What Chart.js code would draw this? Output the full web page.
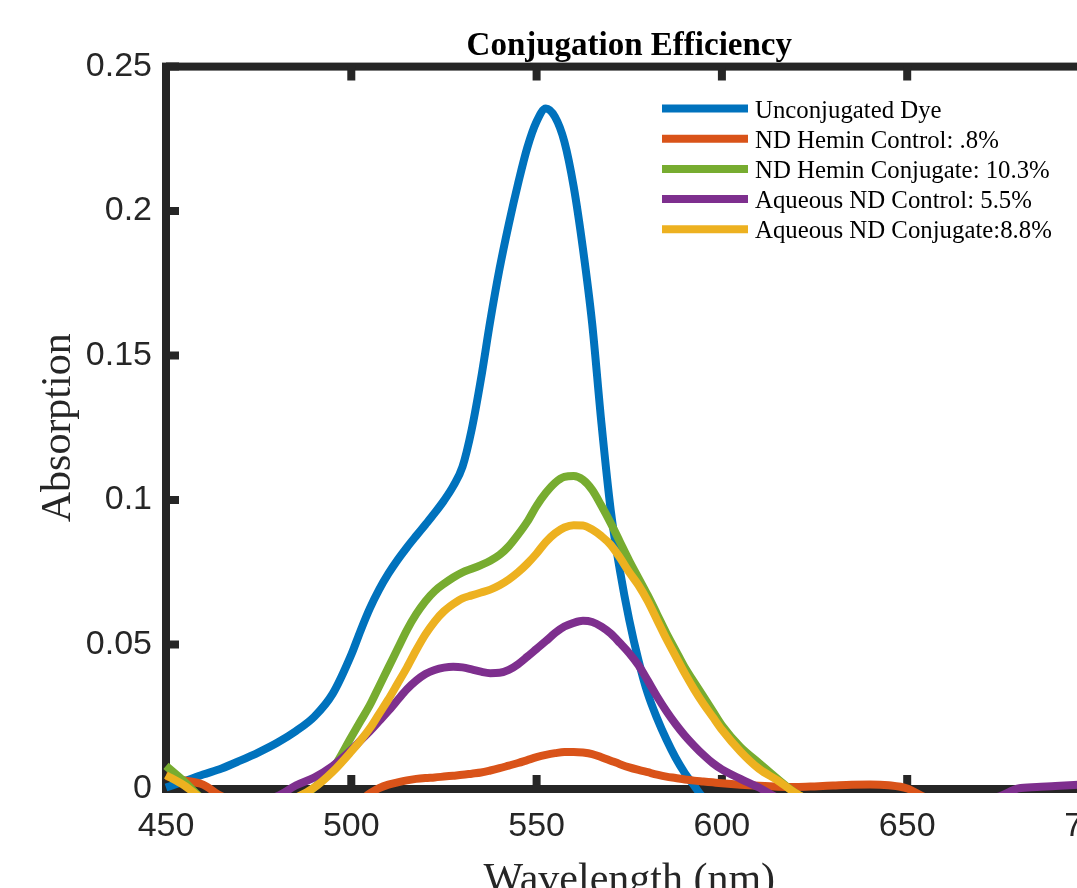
<!DOCTYPE html>
<html>
<head>
<meta charset="utf-8">
<title>Conjugation Efficiency</title>
<script src="https://cdn.jsdelivr.net/npm/chart.js"></script>
<style>
  html, body { margin: 0; padding: 0; background: #fff; overflow: hidden; }
  #wrap { width: 1140px; height: 888px; }
</style>
</head>
<body>
<div id="wrap"><canvas id="chart" width="1140" height="888"></canvas></div>
<script>
// wavelength (nm): 5 nm steps, 2.5 nm around the peaks
const wavelength = [450, 455, 460, 465, 470, 475, 480, 485, 490, 495,
  500, 502.5, 505, 507.5, 510, 512.5, 515, 517.5, 520, 522.5,
  525, 527.5, 530, 532.5, 535, 537.5, 540, 542.5, 545, 547.5,
  550, 552.5, 555, 557.5, 560, 562.5, 565, 567.5, 570, 572.5,
  575, 577.5, 580, 582.5, 585, 587.5, 590, 592.5, 595, 597.5,
  600, 605, 610, 615, 620, 625, 630, 635, 640, 645,
  650, 655, 660, 665, 670, 675, 680, 685, 690, 695, 700];

// absorption (values below 0 are hidden by the axes)
const unconjugatedDye = [0.0005, 0.0027, 0.005, 0.0071, 0.0098, 0.0127, 0.016, 0.020, 0.025, 0.033,
  0.0465, 0.0548, 0.0625, 0.069, 0.0745, 0.0793, 0.0836, 0.0876, 0.0915, 0.0955,
  0.0998, 0.1048, 0.1115, 0.1245, 0.142, 0.162, 0.180, 0.1955, 0.2095, 0.222,
  0.231, 0.2355, 0.2325, 0.224, 0.2085, 0.187, 0.161, 0.1265, 0.0965, 0.0755,
  0.0585, 0.0445, 0.033, 0.0245, 0.0172, 0.0108, 0.0055, 0.0012, -0.003, -0.0045,
  -0.005, -0.005, -0.005, -0.006, -0.006, -0.005, -0.005, -0.005, -0.006, -0.006,
  -0.005, -0.005, -0.005, -0.005, -0.006, -0.006, -0.005, -0.005, -0.005, -0.005, -0.005];

const ndHeminControl = [0.0045, 0.003, 0.0015, -0.0025, -0.004, -0.005, -0.005, -0.005, -0.005, -0.004,
  -0.003, -0.0035, -0.0015, 0.0003, 0.0015, 0.0023, 0.003, 0.0035, 0.0038, 0.004,
  0.0043, 0.0046, 0.0049, 0.0053, 0.0057, 0.0064, 0.0072, 0.0081, 0.009, 0.010,
  0.011, 0.0118, 0.0124, 0.0128, 0.0128, 0.0126, 0.0121, 0.011, 0.0098, 0.0086,
  0.0075, 0.0066, 0.0058, 0.005, 0.0043, 0.0038, 0.0033, 0.0029, 0.0026, 0.0023,
  0.002, 0.0015, 0.0011, 0.0008, 0.0007, 0.0009, 0.0012, 0.0015, 0.0016, 0.0013,
  0.0002, -0.003, -0.005, -0.005, -0.005, -0.005, -0.005, -0.005, -0.005, -0.005, -0.005];

const ndHeminConjugate = [0.008, 0.0025, -0.0035, -0.005, -0.006, -0.006, -0.006, -0.004, 0.0005, 0.007,
  0.018, 0.0235, 0.029, 0.0355, 0.042, 0.0485, 0.055, 0.0605, 0.065, 0.0685,
  0.071, 0.0732, 0.075, 0.0762, 0.0775, 0.079, 0.081, 0.084, 0.088, 0.0925,
  0.098, 0.1025, 0.106, 0.108, 0.1083, 0.107, 0.1035, 0.098, 0.092, 0.0855,
  0.079, 0.073, 0.067, 0.0605, 0.054, 0.048, 0.042, 0.037, 0.032, 0.027,
  0.022, 0.0145, 0.009, 0.0035, -0.0015, -0.0045, -0.005, -0.005, -0.005, -0.005,
  -0.005, -0.005, -0.005, -0.005, -0.005, -0.005, -0.005, -0.005, -0.005, -0.005, -0.005];

const aqueousNdControl = [-0.005, -0.005, -0.005, -0.005, -0.005, -0.004, -0.0025, 0.0012, 0.004, 0.008,
  0.0135, 0.0168, 0.020, 0.0235, 0.027, 0.0308, 0.0345, 0.0375, 0.0398, 0.0412,
  0.042, 0.0423, 0.0421, 0.0414, 0.0406, 0.0401, 0.0402, 0.0412, 0.0432, 0.0458,
  0.0485, 0.0512, 0.054, 0.0562, 0.0575, 0.0582, 0.0578, 0.0562, 0.0538, 0.0505,
  0.047, 0.0428, 0.0375, 0.032, 0.027, 0.0225, 0.0185, 0.015, 0.0118, 0.009,
  0.0068, 0.0035, 0.0005, -0.003, -0.004, -0.005, -0.005, -0.005, -0.005, -0.005,
  -0.005, -0.005, -0.005, -0.0045, -0.004, -0.0025, 0.0002, 0.0007, 0.0010, 0.0014, 0.0017];

const aqueousNdConjugate = [0.0048, 0.0012, -0.0035, -0.005, -0.006, -0.006, -0.005, -0.003, 0.0005, 0.006,
  0.013, 0.0168, 0.021, 0.026, 0.031, 0.0365, 0.042, 0.048, 0.0535, 0.058,
  0.0615, 0.064, 0.066, 0.067, 0.068, 0.069, 0.0705, 0.0725, 0.075, 0.078,
  0.0815, 0.0855, 0.0885, 0.0905, 0.0913, 0.0912, 0.0898, 0.0875, 0.0845, 0.080,
  0.075, 0.0705, 0.065, 0.0585, 0.052, 0.046, 0.040, 0.0345, 0.0295, 0.025,
  0.0205, 0.013, 0.007, 0.003, -0.0015, -0.0045, -0.005, -0.005, -0.005, -0.005,
  -0.005, -0.005, -0.005, -0.005, -0.005, -0.005, -0.005, -0.005, -0.005, -0.005, -0.005];

const seriesNames = ['Unconjugated Dye', 'ND Hemin Control: .8%', 'ND Hemin Conjugate: 10.3%',
  'Aqueous ND Control: 5.5%', 'Aqueous ND Conjugate:8.8%'];
const seriesValues = [unconjugatedDye, ndHeminControl, ndHeminConjugate, aqueousNdControl, aqueousNdConjugate];
const seriesColors = ['#0072BD', '#D95319', '#77AC30', '#7E2F8E', '#EDB120'];

const xTicks = [450, 500, 550, 600, 650, 700];
const yTicks = [0, 0.05, 0.1, 0.15, 0.2, 0.25];
const yTickLabels = ['0', '0.05', '0.1', '0.15', '0.2', '0.25'];

const axisColor = '#262626';
const serif = '"Liberation Serif", "Times New Roman", serif';
const sans = '"Liberation Sans", Arial, sans-serif';

// MATLAB style box with inward ticks
const matlabAxes = {
  id: 'matlabAxes',
  beforeDatasetsDraw(chart) {
    const { ctx, chartArea: a, scales: { x, y } } = chart;
    ctx.save();
    ctx.strokeStyle = axisColor;
    ctx.lineWidth = 8;
    ctx.strokeRect(a.left, a.top, a.right - a.left, a.bottom - a.top);
    ctx.beginPath();
    xTicks.forEach(v => {
      const px = x.getPixelForValue(v);
      ctx.moveTo(px, a.bottom); ctx.lineTo(px, a.bottom - 14);
      ctx.moveTo(px, a.top); ctx.lineTo(px, a.top + 14);
    });
    yTicks.forEach(v => {
      const py = y.getPixelForValue(v);
      ctx.moveTo(a.left, py); ctx.lineTo(a.left + 13, py);
      ctx.moveTo(a.right, py); ctx.lineTo(a.right - 13, py);
    });
    ctx.stroke();
    ctx.restore();
  }
};

// legend without a box, top right inside the axes
const matlabLegend = {
  id: 'matlabLegend',
  afterDraw(chart) {
    const ctx = chart.ctx;
    ctx.save();
    ctx.font = '24.8px ' + serif;
    ctx.textBaseline = 'alphabetic';
    ctx.textAlign = 'left';
    chart.data.datasets.forEach((ds, i) => {
      const yy = 108.5 + i * 30.2;
      ctx.strokeStyle = ds.borderColor;
      ctx.lineWidth = 8;
      ctx.lineCap = 'butt';
      ctx.beginPath();
      ctx.moveTo(662, yy);
      ctx.lineTo(748, yy);
      ctx.stroke();
      ctx.fillStyle = '#000';
      ctx.fillText(ds.label, 755, yy + 9);
    });
    ctx.restore();
  }
};

const ctx = document.getElementById('chart').getContext('2d');
new Chart(ctx, {
  type: 'line',
  data: {
    datasets: seriesNames.map((name, i) => ({
      label: name,
      data: wavelength.map((w, j) => ({ x: w, y: seriesValues[i][j] })),
      borderColor: seriesColors[i],
      backgroundColor: seriesColors[i],
      borderWidth: 8,
      borderCapStyle: 'butt',
      borderJoinStyle: 'round',
      pointRadius: 0,
      cubicInterpolationMode: 'monotone',
      fill: false,
      order: seriesNames.length - i,
      clip: { left: 4, top: 0, right: 4, bottom: 4 }
    }))
  },
  options: {
    responsive: false,
    animation: false,
    devicePixelRatio: 1,
    layout: { padding: { left: 0, right: 47.5, top: 0, bottom: 0 } },
    plugins: {
      legend: { display: false },
      tooltip: { enabled: false },
      title: {
        display: true,
        text: 'Conjugation Efficiency',
        fullSize: false,
        color: '#000',
        font: { family: serif, size: 33, weight: 'bold', lineHeight: 1.2 },
        padding: { top: 27, bottom: 0 }
      }
    },
    scales: {
      x: {
        type: 'linear',
        min: 450,
        max: 700,
        grid: { display: false, drawTicks: false },
        border: { display: false },
        afterBuildTicks: s => { s.ticks = xTicks.map(v => ({ value: v })); },
        afterFit: s => { s.height = 99; },
        ticks: {
          color: axisColor,
          padding: 17.5,
          maxRotation: 0,
          font: { family: sans, size: 34 }
        },
        title: {
          display: true,
          text: 'Wavelength (nm)',
          color: axisColor,
          padding: { top: 0, bottom: 0 },
          font: { family: serif, size: 42, lineHeight: 0.34 }
        }
      },
      y: {
        type: 'linear',
        min: 0,
        max: 0.25,
        grid: { display: false, drawTicks: false },
        border: { display: false },
        afterBuildTicks: s => { s.ticks = yTicks.map(v => ({ value: v })); },
        afterFit: s => { s.width = 166; },
        ticks: {
          color: axisColor,
          padding: 14,
          font: { family: sans, size: 34 },
          callback: (v) => yTickLabels[yTicks.indexOf(v)] ?? ''
        },
        title: {
          display: true,
          text: 'Absorption',
          color: axisColor,
          padding: { top: 42, bottom: 0 },
          font: { family: serif, size: 42, lineHeight: 0.8 }
        }
      }
    }
  },
  plugins: [matlabAxes, matlabLegend]
});
</script>
</body>
</html>
